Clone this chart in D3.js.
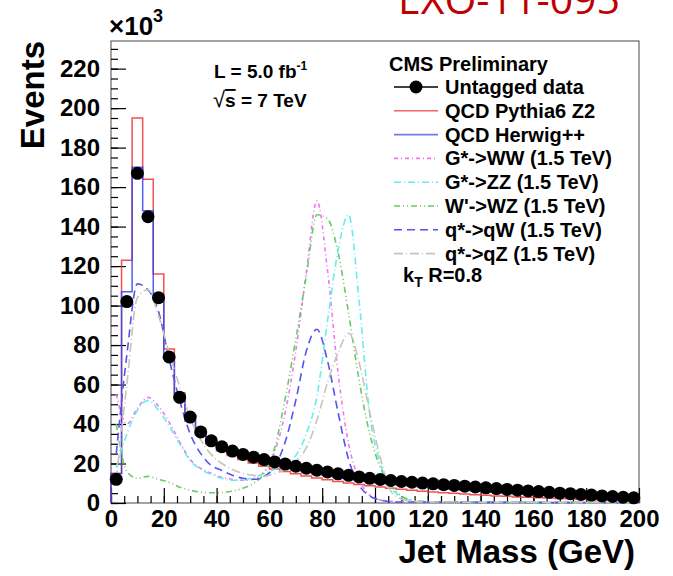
<html>
<head>
<style>
body { margin: 0; background: #fff; }
text { font-family: "Liberation Sans", Arial, sans-serif; }
.axis text { font-size: 24px; font-weight: bold; fill: #000; }
.axis line { stroke: #000; stroke-width: 1.2px; }
.axis path { display: none; }
.leg { font-size: 20px; font-weight: bold; }
</style>
</head>
<body>
<svg></svg>
<script src="https://cdn.jsdelivr.net/npm/d3@7"></script>
<script>
// bin centres, 4 GeV bins from 0 to 200
var binCenters = d3.range(2, 200, 4);
var binWidth = 4;

var dataVals = [12, 102, 167, 145, 104, 74, 53.5, 43.5, 36, 31.5,
  28.5, 26.3, 24.6, 23.2, 22.0, 20.8, 19.7, 18.6, 17.6, 16.6,
  15.7, 14.8, 14.0, 13.2, 12.5, 11.9, 11.4, 10.9, 10.5, 10.1,
  9.7, 9.3, 8.9, 8.5, 8.1, 7.7, 7.3, 6.9, 6.5, 6.1,
  5.8, 5.4, 5.0, 4.7, 4.3, 4.0, 3.6, 3.3, 2.9, 2.6];

var pythiaVals = [15, 123, 195, 164, 116, 78, 55.8, 43, 35, 30,
  26.5, 24, 22, 20.2, 18.6, 17.2, 16.0, 14.8, 13.7, 12.7,
  11.8, 10.9, 10.1, 9.4, 8.7, 8.1, 7.5, 7.0, 6.5, 6.0,
  5.6, 5.2, 4.9, 4.5, 4.2, 3.9, 3.6, 3.4, 3.1, 2.9,
  2.7, 2.5, 2.3, 2.1, 1.9, 1.7, 1.6, 1.4, 1.3, 1.2];

var herwigVals = [15, 107, 170, 148, 104, 75, 54.5, 41.5, 34.5, 30,
  27, 25, 23, 21.6, 20.3, 19.2, 18.1, 17.0, 16.0, 15.0,
  14.1, 13.2, 12.4, 11.6, 10.9, 10.3, 9.7, 9.2, 8.7, 8.2,
  7.8, 7.4, 7.0, 6.6, 6.2, 5.8, 5.5, 5.1, 4.8, 4.5,
  4.2, 3.9, 3.6, 3.3, 3.1, 2.8, 2.5, 2.3, 2.0, 1.8];

var gwwVals = [55, 40, 48, 53.5, 49, 41, 31, 22, 17.5, 15,
  13, 12, 11.5, 12, 16, 26, 46, 77, 117, 153,
  118, 66, 30, 12, 4, 1.5, 0.8, 0.6, 0.5, 0.5,
  0.5, 0.5, 0.5, 0.4, 0.4, 0.4, 0.4, 0.4, 0.3, 0.3,
  0.3, 0.3, 0.3, 0.3, 0.3, 0.2, 0.2, 0.2, 0.2, 0.2];

var gzzVals = [18, 35, 47, 52, 47, 39, 30, 21.5, 17, 14.5,
  12.5, 11.5, 11.5, 13, 15, 17, 19, 24, 35, 54,
  92, 128, 146, 102, 45, 20, 8, 3, 1.2, 0.8,
  0.6, 0.6, 0.5, 0.5, 0.5, 0.4, 0.4, 0.4, 0.4, 0.3,
  0.3, 0.3, 0.3, 0.3, 0.3, 0.2, 0.2, 0.2, 0.2, 0.2];

var wzVals = [40, 16, 12.5, 13.5, 12, 10.5, 8, 6.5, 5.5, 5.2,
  5.3, 6, 7.5, 10, 15, 28, 53, 83, 115, 146,
  144, 127, 96, 62, 35, 18, 9, 3.5, 1.5, 0.8,
  0.6, 0.6, 0.5, 0.5, 0.5, 0.4, 0.4, 0.4, 0.4, 0.3,
  0.3, 0.3, 0.3, 0.3, 0.3, 0.2, 0.2, 0.2, 0.2, 0.2];

var qwVals = [25, 75, 111, 108, 97, 73, 52, 35, 25, 19,
  16.5, 14, 12.5, 12, 13.5, 18.5, 31, 52, 77, 88,
  72, 46, 22, 9, 3.5, 1.5, 0.6, 0.5, 0.5, 0.4,
  0.4, 0.4, 0.4, 0.3, 0.3, 0.3, 0.3, 0.3, 0.3, 0.2,
  0.2, 0.2, 0.2, 0.2, 0.2, 0.2, 0.2, 0.1, 0.1, 0.1];

var qzVals = [12, 60, 104, 108, 95, 76, 59, 43, 32, 24.5,
  20, 17, 15, 14, 13.5, 15, 17, 21, 28, 42,
  61, 76, 86, 71, 46, 23, 6, 2, 0.8, 0.6,
  0.5, 0.5, 0.5, 0.4, 0.4, 0.4, 0.4, 0.3, 0.3, 0.3,
  0.3, 0.3, 0.3, 0.2, 0.2, 0.2, 0.2, 0.2, 0.2, 0.2];

var yMajor = d3.range(0, 221, 20);
var yMinor = d3.range(0, 234, 5);
var xMajor = d3.range(0, 201, 20);
var xMinor = d3.range(0, 201, 5);

var legendLabels = ["Untagged data", "QCD Pythia6 Z2", "QCD Herwig++",
  "G*->WW (1.5 TeV)", "G*->ZZ (1.5 TeV)", "W'->WZ (1.5 TeV)",
  "q*->qW (1.5 TeV)", "q*->qZ (1.5 TeV)"];

var width = 673, height = 576;
var frame = {left: 111, right: 639, top: 41, bottom: 503};

var svg = d3.select("svg").attr("width", width).attr("height", height);

var x = d3.scaleLinear().domain([0, 200]).range([frame.left, frame.right]);
var y = d3.scaleLinear().domain([0, 234]).range([frame.bottom, frame.top]);

// frame
svg.append("rect")
    .attr("x", frame.left).attr("y", frame.top)
    .attr("width", frame.right - frame.left)
    .attr("height", frame.bottom - frame.top)
    .attr("fill", "none").attr("stroke", "#666").attr("stroke-width", 1.2);

// axes: minor ticks then major ticks with labels
svg.append("g").attr("class", "axis")
    .attr("transform", "translate(" + frame.left + ",0)")
    .call(d3.axisLeft(y).tickValues(yMinor).tickSize(-7).tickFormat(""));
svg.append("g").attr("class", "axis")
    .attr("transform", "translate(" + frame.left + ",0)")
    .call(d3.axisLeft(y).tickValues(yMajor).tickSize(-15).tickPadding(11).tickFormat(d3.format("d")));
svg.append("g").attr("class", "axis")
    .attr("transform", "translate(0," + frame.bottom + ")")
    .call(d3.axisBottom(x).tickValues(xMinor).tickSize(-7).tickFormat(""));
svg.append("g").attr("class", "axis")
    .attr("transform", "translate(0," + frame.bottom + ")")
    .call(d3.axisBottom(x).tickValues(xMajor).tickSize(-15).tickPadding(7).tickFormat(d3.format("d")));

// step histograms
function stepPath(vals) {
  var pts = [[x(0), y(0)]];
  vals.forEach(function(v, i) {
    var x0 = binCenters[i] - binWidth / 2, x1 = binCenters[i] + binWidth / 2;
    pts.push([x(x0), y(v)]);
    pts.push([x(x1), y(v)]);
  });
  pts.push([x(200), y(0)]);
  return d3.line()(pts);
}

svg.append("path").attr("d", stepPath(pythiaVals))
    .attr("fill", "none").attr("stroke", "#ee3333").attr("stroke-width", 1.5).attr("opacity", 0.85);
svg.append("path").attr("d", stepPath(herwigVals))
    .attr("fill", "none").attr("stroke", "#3344ee").attr("stroke-width", 1.5).attr("opacity", 0.85);

// signal curves
var signals = [
  {vals: gwwVals, color: "#ee77ee", dash: "4,3,1,3"},
  {vals: gzzVals, color: "#66eeee", dash: "7,3,1,3"},
  {vals: wzVals, color: "#66cc66", dash: "6,3,1,3,1,3"},
  {vals: qwVals, color: "#5555ee", dash: "8,5"},
  {vals: qzVals, color: "#c8c4bc", dash: "9,3,1,3"}
];

var curve = d3.line()
    .x(function(d, i) { return x(binCenters[i]); })
    .y(function(d) { return y(d); })
    .curve(d3.curveMonotoneX);

signals.forEach(function(s) {
  svg.append("path").attr("d", curve(s.vals))
      .attr("fill", "none").attr("stroke", s.color)
      .attr("stroke-width", 1.6).attr("stroke-dasharray", s.dash);
});

// data points
svg.append("g").selectAll("circle")
    .data(dataVals)
  .enter().append("circle")
    .attr("cx", function(d, i) { return x(binCenters[i]); })
    .attr("cy", function(d) { return y(d); })
    .attr("r", 6.5)
    .attr("fill", "#000");

// axis titles
svg.append("text")
    .attr("transform", "translate(44," + frame.top + ") rotate(-90)")
    .attr("text-anchor", "end")
    .style("font-size", "33px").style("font-weight", "bold")
    .text("Events");

svg.append("text")
    .attr("x", 635).attr("y", 563)
    .attr("text-anchor", "end")
    .style("font-size", "33px").style("font-weight", "bold")
    .text("Jet Mass (GeV)");

var exp = svg.append("text").attr("x", 109).attr("y", 35)
    .style("font-size", "26px").style("font-weight", "bold");
exp.append("tspan").text("\u00d710");
exp.append("tspan").attr("dy", -13).style("font-size", "18px").text("3");

// red document label, cut at top
svg.append("text")
    .attr("x", 398).attr("y", 14)
    .style("font-size", "41px").style("font-family", "'Open Sans', sans-serif")
    .attr("fill", "#c00000")
    .text("EXO-11-095");

// lumi / energy
var lumi = svg.append("text").attr("x", 214).attr("y", 78)
    .style("font-size", "19px").style("font-weight", "bold");
lumi.append("tspan").text("L = 5.0 fb");
lumi.append("tspan").attr("dy", -8).style("font-size", "12px").text("-1");

var sq = svg.append("text").attr("x", 213).attr("y", 107)
    .style("font-size", "19px").style("font-weight", "bold");
sq.append("tspan").style("font-weight", "normal").style("font-size", "22px").text("\u221a");
sq.append("tspan").style("text-decoration", "overline").text("s");
sq.append("tspan").text(" = 7 TeV");

// legend
var legX0 = 394, legX1 = 438, legText = 445;
var rowY = d3.range(legendLabels.length).map(function(i) { return 87 + i * 23.8; });

svg.append("text").attr("class", "leg").attr("x", 389).attr("y", 71)
    .text("CMS Preliminary");

var legStyles = [
  {color: "#000", dash: null},
  {color: "#ee6666", dash: null},
  {color: "#7777ee", dash: null}
].concat(signals.map(function(s) { return {color: s.color, dash: s.dash}; }));

legendLabels.forEach(function(lab, i) {
  var yy = rowY[i];
  var st = legStyles[i];
  svg.append("line")
      .attr("x1", legX0).attr("x2", legX1).attr("y1", yy).attr("y2", yy)
      .attr("stroke", st.color).attr("stroke-width", 1.6)
      .attr("stroke-dasharray", st.dash);
  if (i === 0) {
    svg.append("circle").attr("cx", (legX0 + legX1) / 2).attr("cy", yy).attr("r", 6.5).attr("fill", "#000");
  }
  svg.append("text").attr("class", "leg").attr("x", legText).attr("y", yy + 7).text(lab);
});

var kt = svg.append("text").attr("class", "leg").attr("x", 403).attr("y", 282);
kt.append("tspan").text("k");
kt.append("tspan").attr("dy", 5).style("font-size", "14px").text("T");
kt.append("tspan").attr("dy", -5).text(" R=0.8");
</script>
</body>
</html>
